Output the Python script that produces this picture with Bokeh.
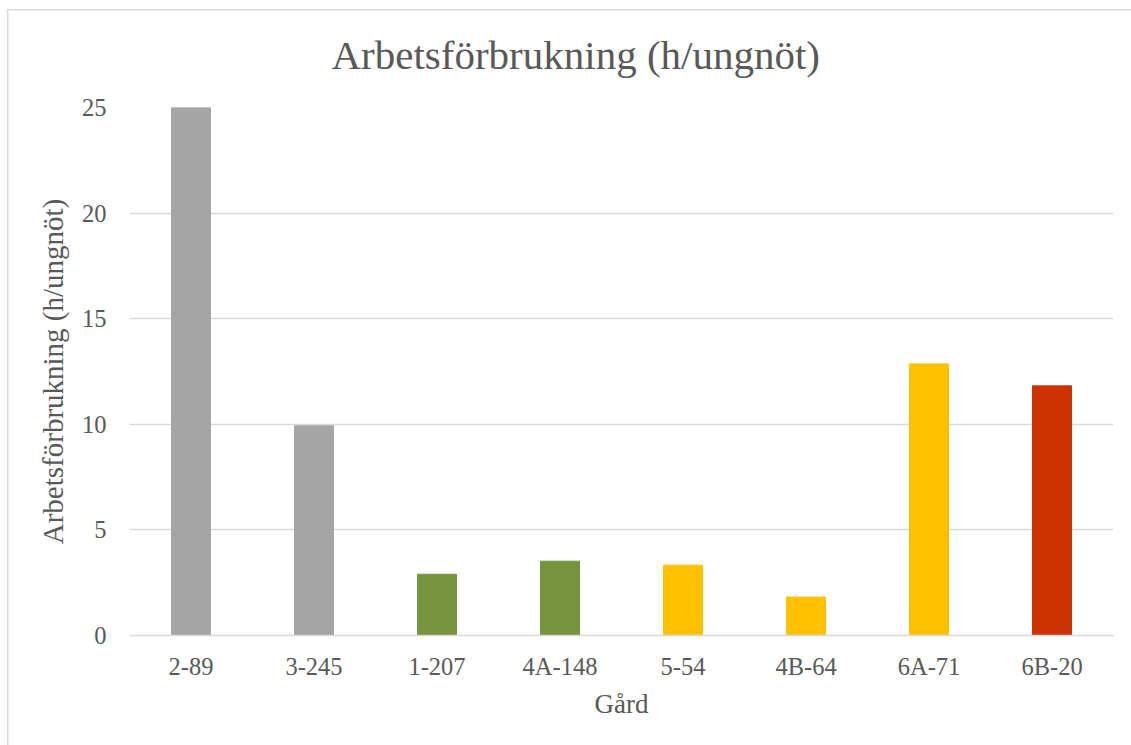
from bokeh.plotting import figure
from bokeh.models import ColumnDataSource, FixedTicker, Range1d
from bokeh.embed import file_html
from bokeh.resources import INLINE

farms = ["2-89", "3-245", "1-207", "4A-148", "5-54", "4B-64", "6A-71", "6B-20"]
hours = [25.0, 9.93, 2.9, 3.52, 3.33, 1.82, 12.86, 11.82]
bar_colors = ["#A5A5A5", "#A5A5A5", "#77933C", "#77933C", "#FFC000", "#FFC000", "#FFC000", "#CC3300"]
y_ticks = [0, 5, 10, 15, 20, 25]
title_text = "Arbetsförbrukning (h/ungnöt)"
y_label = "Arbetsförbrukning (h/ungnöt)"
x_label = "Gård"

FONT = "Liberation Serif"
TXT = "#595959"
GRID = "#D9D9D9"

W, H = 1131, 745

src = ColumnDataSource(dict(farm=farms, hours=hours, color=bar_colors))

p = figure(x_range=farms, y_range=Range1d(0, 25), width=W, height=H,
           output_backend="svg", toolbar_location=None,
           min_border_left=129, min_border_right=18,
           min_border_top=107, min_border_bottom=110,
           title=title_text)

p.vbar(x="farm", top="hours", width=0.317, color="color", source=src)

p.title.align = "left"
p.title.offset = 202
p.title.standoff = 59
p.title.text_font = FONT
p.title.text_font_size = "41px"
p.title.text_font_style = "normal"
p.title.text_color = TXT

p.outline_line_color = None
p.background_fill_color = "white"
p.border_fill_alpha = 0
p.styles = {
    "background": ("linear-gradient(#D9D9D9,#D9D9D9) 7px 9px / 1.5px 100% no-repeat, "
                   "linear-gradient(#D9D9D9,#D9D9D9) 7px 9px / 100% 1.5px no-repeat, white"),
}
p.xgrid.grid_line_color = None
p.ygrid.grid_line_color = GRID
p.ygrid.grid_line_width = 1.5
p.yaxis.ticker = FixedTicker(ticks=y_ticks)
p.yaxis.axis_line_color = None
p.yaxis.major_tick_line_color = None
p.yaxis.minor_tick_line_color = None
p.yaxis.major_label_standoff = 17
p.xaxis.axis_line_color = GRID
p.xaxis.axis_line_width = 1.5
p.xaxis.major_tick_line_color = None
p.xaxis.minor_tick_line_color = None
p.xaxis.major_label_standoff = 11

for ax in (p.xaxis[0], p.yaxis[0]):
    ax.major_label_text_font = FONT
    ax.major_label_text_font_size = "24.5px"
    ax.major_label_text_color = TXT
    ax.axis_label_text_font = FONT
    ax.axis_label_text_font_style = "normal"
    ax.axis_label_text_color = TXT

p.yaxis.axis_label = y_label
p.yaxis.axis_label_text_font_size = "29px"
p.yaxis.axis_label_standoff = 10
p.xaxis.axis_label = x_label
p.xaxis.axis_label_text_font_size = "27px"
p.xaxis.axis_label_standoff = 6

open("out.html", "w").write(file_html(p, INLINE))
